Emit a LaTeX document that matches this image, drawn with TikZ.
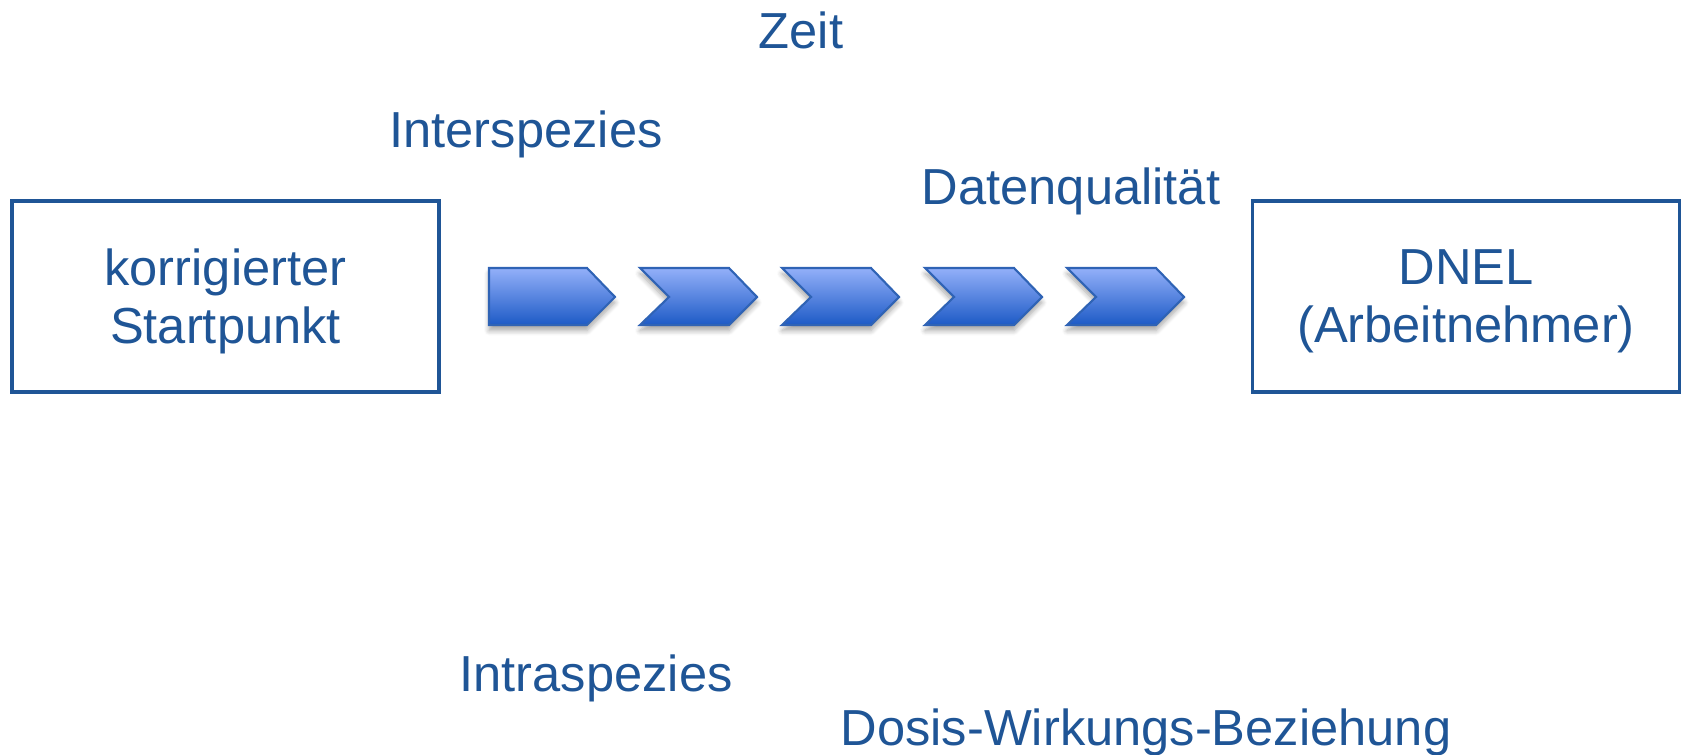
\documentclass[tikz,border=0pt]{standalone}
\usepackage{fontspec}
\setmainfont{Liberation Sans}
\usetikzlibrary{shadows.blur}

\definecolor{txtblue}{HTML}{1F5596}
\definecolor{chevline}{HTML}{2F63B5}
\definecolor{chevtop}{HTML}{93B0F9}
\definecolor{chevbot}{HTML}{1D5AC6}

\tikzset{
	lbl/.style={text=txtblue, font=\fontsize{14.4}{16.5}\selectfont, inner sep=0pt},
	factorbox/.style={lbl, draw=txtblue, line width=1pt, align=center, text depth=0pt,
		minimum width=4.27cm, minimum height=1.91cm},
	chev/.style={draw=chevline, line width=0.6pt, top color=chevtop, bottom color=chevbot,
		blur shadow={shadow xshift=0pt, shadow yshift=-1.6pt, shadow opacity=35,
			shadow blur radius=1.4pt, shadow blur steps=6}}
}

\begin{document}
\begin{tikzpicture}[x=0.01cm, y=-0.01cm]
		\useasboundingbox (0,0) rectangle (1682,755);
		
		\node[factorbox] (start) at (225.5,296.5) {korrigierter\\Startpunkt};
		\node[factorbox] (dnel) at (1466,296.5) {DNEL\\(Arbeitnehmer)};
		
		\node[lbl, anchor=base] (zeit) at (801,49) {Zeit};
		\node[lbl, anchor=base] (inter) at (526,148) {Interspezies};
		\node[lbl, anchor=base] (daten) at (1071,205) {Datenqualität};
		\node[lbl, anchor=base] (intra) at (596,691) {Intraspezies};
		\node[lbl, anchor=base] (dosis) at (1146,745) {Dosis-Wirkungs-Beziehung};
		
		\filldraw[chev] (489,268) -- (587,268) -- (615,297) -- (587,325) -- (489,325) -- cycle;
		\foreach \x in {640,782,925,1067}
			\filldraw[chev] (\x,268) -- +(89,0) -- +(117,29) -- +(89,57) -- +(0,57) -- +(29,29) -- cycle;
	\end{tikzpicture}
\end{document}
